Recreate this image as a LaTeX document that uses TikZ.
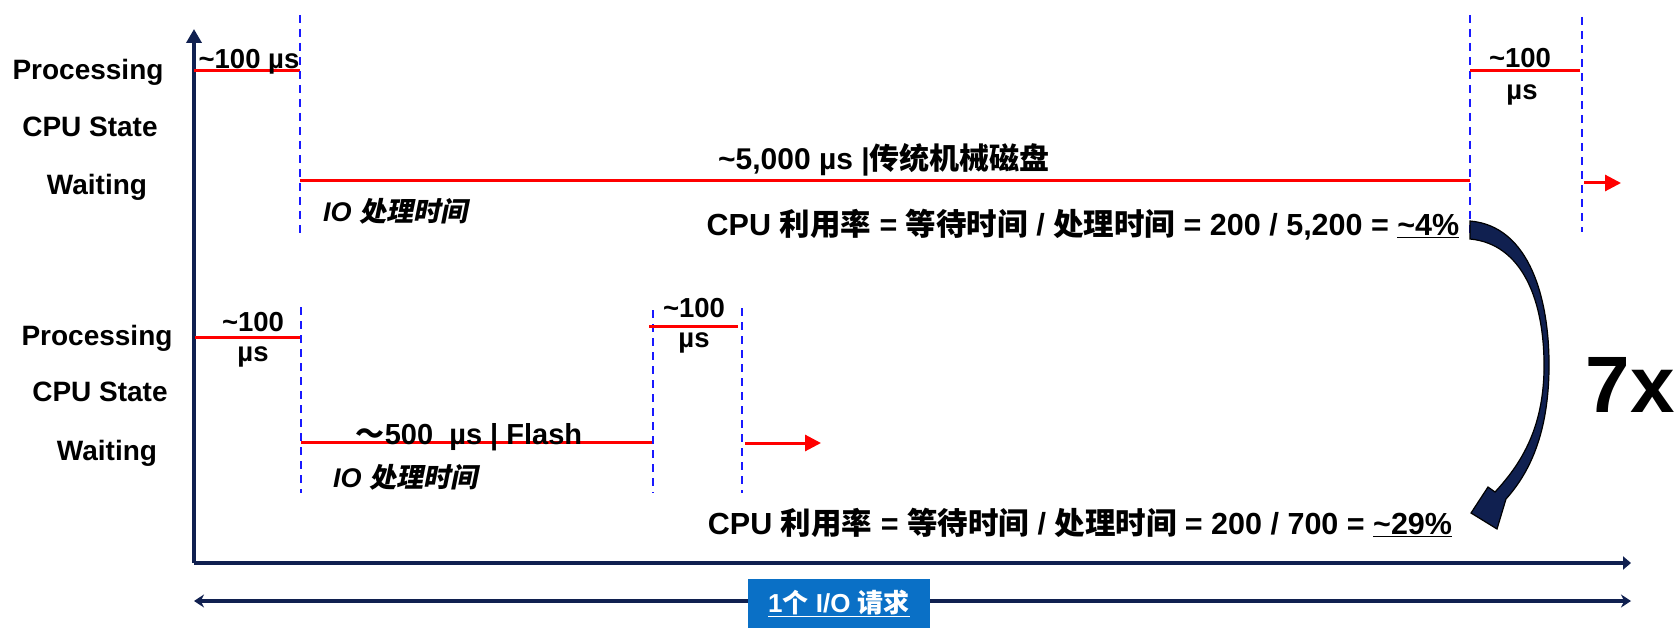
\documentclass[tikz,border=0pt]{standalone}
\usepackage{fontspec}
\setmainfont{Liberation Sans}
\newfontfamily\cjk{Noto Sans CJK SC}
\newfontfamily\cjkit{Noto Sans CJK SC}[FakeSlant=0.2]
\usetikzlibrary{arrows.meta}
\definecolor{navy}{RGB}{16,32,80}
\definecolor{boxblue}{RGB}{10,112,198}
\definecolor{dblue}{RGB}{25,25,255}
\newcommand{\zh}[1]{{\cjk #1}}
\newcommand{\zhi}[1]{{\cjkit #1}}
\newcommand{\tl}{\textasciitilde}
\begin{document}
\begin{tikzpicture}[x=1pt,y=-1pt,
  lbl/.style={font=\fontsize{28}{30}\selectfont\bfseries, inner sep=0pt},
  val/.style={font=\fontsize{27.5}{30}\selectfont\bfseries, inner sep=0pt},
  big/.style={font=\fontsize{30}{34}\selectfont\bfseries, inner sep=0pt},
  ital/.style={font=\fontsize{27}{30}\selectfont\bfseries\itshape, inner sep=0pt},
  cpu/.style={font=\fontsize{30.5}{34}\selectfont\bfseries, inner sep=0pt},
  sig/.style={red, line width=3pt},
  sigarrow/.style={red, line width=3pt, -{Triangle[length=16pt,width=16pt]}},
  sep/.style={dblue, line width=2pt, dash pattern=on 8pt off 6pt},
  axis/.style={navy, line width=4pt},
]
\useasboundingbox (0,0) rectangle (1675,628);

% ---------- axes ----------
\coordinate (O) at (194,563);
\coordinate (ytop) at (194,29);
\coordinate (xend) at (1631,563);
\draw[axis, -{Triangle[length=14pt,width=15pt]}] (O) -- (ytop);
\draw[axis, -{Triangle[length=8pt,width=13pt]}] (O) -- (xend);

% ---------- top: labels ----------
\node[lbl] (P1) at (88,72) {Processing};
\node[lbl] (C1) at (90,127) {CPU State};
\node[lbl] (W1) at (97,187) {Waiting};

% ---------- top: signals ----------
\coordinate (p1a) at (194,71);  \coordinate (p1b) at (300,71);
\draw[sig] (p1a) -- (p1b);
\node[val] (t1) at (249,62) {\tl100 µs};

\coordinate (d1a) at (300,15);  \coordinate (d1b) at (300,233);
\draw[sep] (d1a) -- (d1b);

\coordinate (w1a) at (300,181); \coordinate (w1b) at (1470,181);
\draw[sig] (w1a) -- (w1b);
\node[big] (hdd) at (884,160) {\tl5,000 µs |\zh{传统机械磁盘}};
\node[ital] (io1) at (395,211) {IO \zhi{处理时间}};
\node[cpu] (cpu1) at (1083,225) {CPU \zh{利用率} = \zh{等待时间} / \zh{处理时间} = 200 / 5,200 = \underline{\tl4\%}};

\coordinate (d2a) at (1470,15);  \coordinate (d2b) at (1470,233);
\draw[sep] (d2a) -- (d2b);
\coordinate (d3a) at (1582,17);  \coordinate (d3b) at (1582,232);
\draw[sep] (d3a) -- (d3b);

\coordinate (p2a) at (1470,71);  \coordinate (p2b) at (1580,71);
\draw[sig] (p2a) -- (p2b);
\node[val] (t2) at (1520,58) {\tl100};
\node[val] (t2u) at (1522,95) {µs};

\coordinate (r1a) at (1584,183); \coordinate (r1b) at (1621,183);
\draw[sigarrow] (r1a) -- (r1b);

% ---------- bottom: labels ----------
\node[lbl] (P2) at (97,338) {Processing};
\node[lbl] (C2) at (100,392) {CPU State};
\node[lbl] (W2) at (107,453) {Waiting};

% ---------- bottom: signals ----------
\coordinate (p3a) at (195,337);  \coordinate (p3b) at (301,337);
\draw[sig] (p3a) -- (p3b);
\node[val] (t3) at (253,322) {\tl100};
\node[val] (t3u) at (253,357) {µs};

\coordinate (d4a) at (301,307);  \coordinate (d4b) at (301,493);
\draw[sep] (d4a) -- (d4b);

\coordinate (w2a) at (301,442); \coordinate (w2b) at (652,442);
\draw[sig] (w2a) -- (w2b);
\node[font=\fontsize{29}{32}\selectfont\bfseries, inner sep=0pt] (fl) at (469,437) {\zh{～}500\ \ µs | Flash};
\node[ital] (io2) at (405,477) {IO \zhi{处理时间}};

\coordinate (d5a) at (653,310);  \coordinate (d5b) at (653,493);
\draw[sep] (d5a) -- (d5b);
\coordinate (d6a) at (742,308);  \coordinate (d6b) at (742,493);
\draw[sep] (d6a) -- (d6b);

\coordinate (p4a) at (649,326);  \coordinate (p4b) at (738,326);
\draw[sig] (p4a) -- (p4b);
\node[val] (t4) at (694,308) {\tl100};
\node[val] (t4u) at (694,343) {µs};

\coordinate (r2a) at (745,443); \coordinate (r2b) at (821,443);
\draw[sigarrow] (r2a) -- (r2b);

\node[cpu] (cpu2) at (1080,523) {CPU \zh{利用率} = \zh{等待时间} / \zh{处理时间} = 200 / 700 = \underline{\tl29\%}};

% ---------- curved block arrow ----------
\draw[black, line width=1.2pt, fill=navy, line join=miter]
  (1470,221) .. controls (1530,226) and (1550,300) .. (1549,370)
  .. controls (1548,430) and (1532,470) .. (1506,499)
  -- (1497,529) -- (1471,513) -- (1488,487) -- (1495,492)
  .. controls (1520,465) and (1543,430) .. (1544,370)
  .. controls (1545,300) and (1522,244) .. (1470,239) -- cycle;
\node[font=\fontsize{80}{84}\selectfont\bfseries, inner sep=0pt] (seven) at (1630,385) {7x};

% ---------- request span ----------
\coordinate (sa) at (194,601); \coordinate (sb) at (1631,601);
\draw[navy, line width=4pt, {Stealth[length=10pt,width=13pt]}-{Stealth[length=10pt,width=13pt]}] (sa) -- (sb);
\node[fill=boxblue, text=white, minimum width=182pt, minimum height=49pt, inner sep=0pt,
      font=\fontsize{26}{28}\selectfont\bfseries] (req) at (839,603.5) {\underline{1\zh{个} I/O \zh{请求}}};
\end{tikzpicture}
\end{document}
